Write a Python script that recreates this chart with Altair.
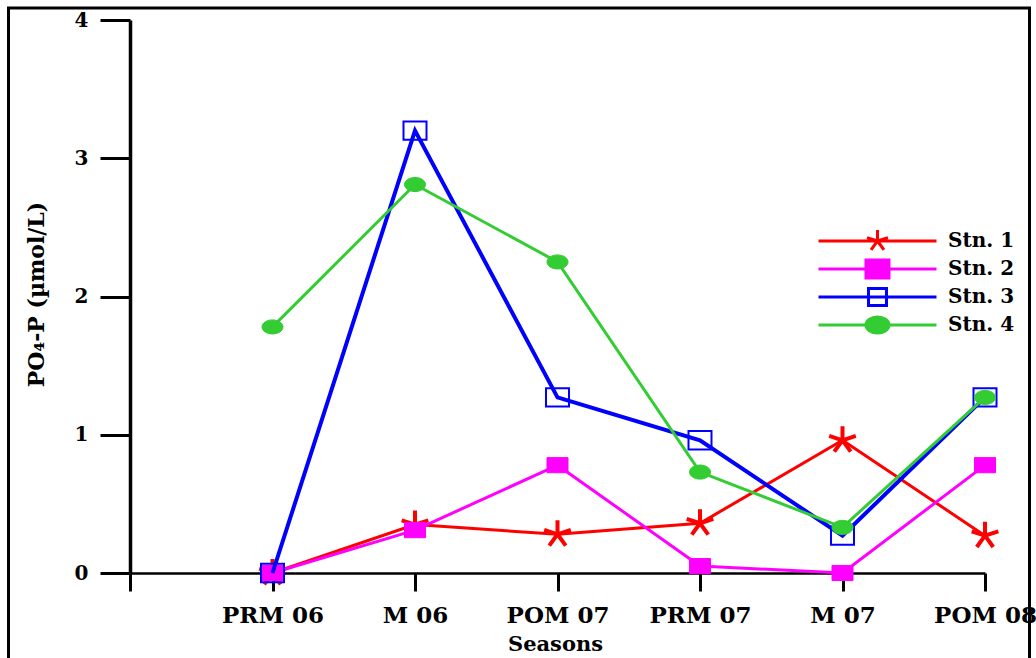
import math
import altair as alt
import pandas as pd

# Sampling seasons (first slot on the axis is left empty)
seasons = ["PRM 06", "M 06", "POM 07", "PRM 07", "M 07", "POM 08"]
stations = ["Stn. 1", "Stn. 2", "Stn. 3", "Stn. 4"]

# PO4-P concentrations (µmol/L) per station
stn1 = [0.00, 0.35, 0.28, 0.36, 0.96, 0.27]
stn2 = [0.00, 0.31, 0.78, 0.05, 0.00, 0.78]
stn3 = [0.00, 3.20, 1.27, 0.96, 0.27, 1.27]
stn4 = [1.78, 2.81, 2.25, 0.73, 0.33, 1.27]

y_ticks = [0, 1, 2, 3, 4]

colors = ["#ff0000", "#ff00ff", "#0000ff", "#33cc33"]
fills = ["#ff0000", "#ff00ff", "transparent", "#33cc33"]

FONT = "DejaVu Serif"

rows = []
for name, vals in zip(stations, [stn1, stn2, stn3, stn4]):
    for s, v in zip(seasons, vals):
        rows.append({"station": name, "season": s, "value": v})
df = pd.DataFrame(rows)


# --- symbol path helpers (unit box is [-1, 1]) ---
def f(v):
    return f"{v:.4f}"


def rect_path(w, h):
    return f"M{f(-w)},{f(-h)}H{f(w)}V{f(h)}H{f(-w)}Z"


def ellipse_path(rx, ry):
    return (f"M{f(-rx)},0A{f(rx)},{f(ry)} 0 1,1 {f(rx)},0"
            f"A{f(rx)},{f(ry)} 0 1,1 {f(-rx)},0Z")


def asterisk_path(r):
    parts = []
    for k in range(5):
        a = math.radians(90 + 72 * k)
        parts.append(f"M0,0L{f(r * math.cos(a))},{f(-r * math.sin(a))}")
    return "".join(parts)


marker_shapes = [
    asterisk_path(1.0),
    rect_path(1.0, 0.72),
    rect_path(1.0, 0.80),
    ellipse_path(1.0, 0.67),
]
marker_sizes = [784, 441, 529, 441]
marker_strokes = [4, 1, 2, 1]
line_widths = [3, 3, 4, 3]

# legend symbols: horizontal line with the marker in its middle
LEG_HALF = 59.0
legend_shapes = [
    "M-1,0H1" + asterisk_path(11 / LEG_HALF),
    "M-1,0H1" + rect_path(11.5 / LEG_HALF, 9 / LEG_HALF),
    "M-1,0H1" + rect_path(9 / LEG_HALF, 8.5 / LEG_HALF),
    "M-1,0H1" + ellipse_path(11.5 / LEG_HALF, 8 / LEG_HALF),
]

x_enc = alt.X(
    "season:O",
    scale=alt.Scale(type="point", domain=[" "] + seasons, padding=0),
    axis=alt.Axis(
        title="Seasons",
        labelAngle=0,
        labelFont=FONT,
        labelFontSize=23,
        labelFontWeight="bold",
        labelColor="black",
        labelPadding=13,
        labelOverlap=False,
        labelFlush=False,
        labelBound=False,
        tickSize=18,
        tickWidth=3,
        tickColor="black",
        domainColor="black",
        domainWidth=2.5,
        titleFont=FONT,
        titleFontSize=21,
        titleFontWeight="bold",
        titleColor="black",
        titleX=425,
        titleY=71,
        titleBaseline="middle",
        grid=False,
    ),
)

y_enc = alt.Y(
    "value:Q",
    scale=alt.Scale(domain=[0, 4], nice=False),
    axis=alt.Axis(
        title="PO₄-P (µmol/L)",
        values=y_ticks,
        format="d",
        labelFont=FONT,
        labelFontSize=20,
        labelFontWeight="bold",
        labelColor="black",
        labelPadding=12,
        tickSize=30,
        tickWidth=3,
        tickColor="black",
        domainColor="black",
        domainWidth=3.5,
        titleFont=FONT,
        titleFontSize=22,
        titleFontWeight="bold",
        titleColor="black",
        titleAngle=270,
        titleX=-94,
        titleY=274,
        titleAlign="center",
        titleBaseline="middle",
        grid=False,
    ),
)

layers = []

# outer frame around the figure
frame = alt.Chart(pd.DataFrame({"k": [0]})).mark_rect(
    fill="transparent", stroke="black", strokeWidth=3
).encode(
    x=alt.value(-121.5), x2=alt.value(899.5),
    y=alt.value(-12), y2=alt.value(700),
)
layers.append(frame)

for i, name in enumerate(stations):
    base = alt.Chart(df).transform_filter(alt.datum.station == name)
    layers.append(
        base.mark_line(color=colors[i], strokeWidth=line_widths[i]).encode(
            x=x_enc, y=y_enc
        )
    )
    layers.append(
        base.mark_point(
            shape=marker_shapes[i],
            size=marker_sizes[i],
            stroke=colors[i],
            fill=fills[i],
            strokeWidth=marker_strokes[i],
            opacity=1,
            filled=fills[i] != "transparent",
        ).encode(x=x_enc, y=y_enc)
    )

legend_def = alt.Legend(
    title=None,
    orient="none",
    legendX=687,
    legendY=207,
    padding=0,
    rowPadding=0,
    clipHeight=28,
    labelOffset=10,
    labelFont=FONT,
    labelFontSize=20,
    labelFontWeight="bold",
    labelColor="black",
    symbolSize=int((2 * LEG_HALF) ** 2),
    symbolStrokeWidth=3,
)

legend_layer = alt.Chart(df).mark_point(opacity=1, size=int((2 * LEG_HALF) ** 2)).encode(
    shape=alt.Shape("station:N", scale=alt.Scale(domain=stations, range=legend_shapes), legend=legend_def),
    stroke=alt.Stroke("station:N", scale=alt.Scale(domain=stations, range=colors), legend=legend_def),
    fill=alt.Fill("station:N", scale=alt.Scale(domain=stations, range=fills), legend=legend_def),
).transform_filter("false")
layers.append(legend_layer)

chart = alt.layer(*layers).properties(
    width=855,
    height=553,
    autosize=alt.AutoSizeParams(type="none"),
    padding={"left": 130, "top": 20, "right": 51, "bottom": 85},
    background="white",
).configure_view(stroke=None)

chart.save("out.html", embed_options={"renderer": "svg", "actions": False})
